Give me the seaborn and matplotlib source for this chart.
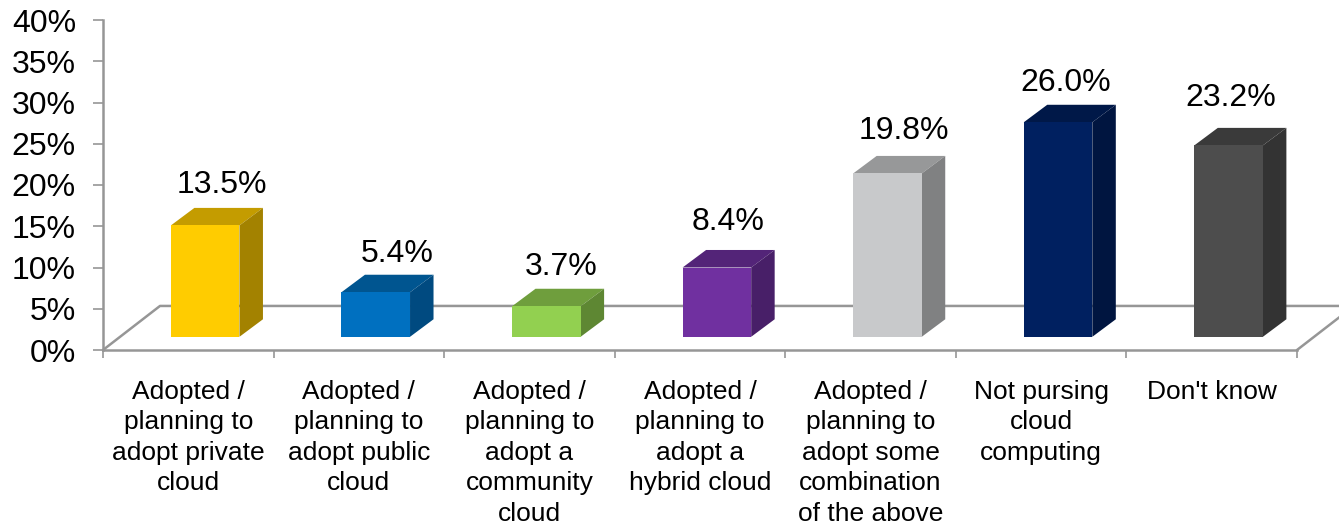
#!/usr/bin/env python3
import pandas as pd
import matplotlib.pyplot as plt
import seaborn as sns

# -------- DATA --------
categories = [
    "Adopted /\nplanning to\nadopt private\ncloud",
    "Adopted /\nplanning to\nadopt public\ncloud",
    "Adopted /\nplanning to\nadopt a\ncommunity\ncloud",
    "Adopted /\nplanning to\nadopt a\nhybrid cloud",
    "Adopted /\nplanning to\nadopt some\ncombination\nof the above",
    "Not pursing\ncloud\ncomputing",
    "Don't know",
]
values = [13.5, 5.4, 3.7, 8.4, 19.8, 26.0, 23.2]
y_ticks = [0, 5, 10, 15, 20, 25, 30, 35, 40]

# -------- STYLE --------
front_colors = ["#FFCC00", "#0070C0", "#92D050", "#7030A0", "#C8C9CB", "#002060", "#4D4D4D"]
top_colors = ["#C49C00", "#005590", "#6F9E3D", "#532478", "#979899", "#001848", "#3A3A3A"]
side_colors = ["#A38200", "#004A80", "#5E8733", "#481F68", "#808182", "#001540", "#333333"]
# label nudges in pixels, from the back top edge of each bar
label_dx = [16.5, 21.5, 14.5, 11.5, 16, 8, 2.5]
label_dy = [22.5, 21, 22, 28, 25, 22, 30]

grey = "#969696"
px_per_cat = 170.6
px_per_pct = 8.24
bar_base = 1.6
bar_dx = 23.5 / px_per_cat
bar_dy = 17.5 / px_per_pct
floor_dx = 57 / px_per_cat
floor_dy = 44 / px_per_pct
x_left = -0.599
x_right = x_left + 7

sns.set_style("white")
plt.rcParams["font.family"] = ["Liberation Sans", "DejaVu Sans"]

df = pd.DataFrame({"category": categories, "value": values})

fig = plt.figure(figsize=(13.39, 5.24), dpi=100)
ax = fig.add_axes([103 / 1339, 174 / 524, 1194 / 1339, 330 / 524])

sns.barplot(
    data=df,
    x="category",
    y="value",
    hue="category",
    palette=front_colors,
    saturation=1,
    width=0.402,
    bottom=bar_base,
    legend=False,
    ax=ax,
    zorder=3,
)

ax.set_xlim(x_left, x_right)
ax.set_ylim(0, 40)

# Floor of the fake 3D box
ax.plot([x_left, x_left + floor_dx, x_right + floor_dx],
        [0, floor_dy, floor_dy], color=grey, lw=1.8, clip_on=False, zorder=1)
ax.plot([x_right, x_right + floor_dx], [0, floor_dy],
        color=grey, lw=1.8, clip_on=False, zorder=1)

# Top and side faces plus the value labels
for i, bar in enumerate(ax.patches):
    x0 = bar.get_x()
    x1 = x0 + bar.get_width()
    y0 = bar.get_y()
    y1 = y0 + bar.get_height()
    bar.set_edgecolor("none")
    ax.fill([x0, x0 + bar_dx, x1 + bar_dx, x1], [y1, y1 + bar_dy, y1 + bar_dy, y1],
            color=top_colors[i], lw=0, zorder=2)
    ax.fill([x1, x1 + bar_dx, x1 + bar_dx, x1], [y0, y0 + bar_dy, y1 + bar_dy, y1],
            color=side_colors[i], lw=0, zorder=2)
    ax.annotate(f"{values[i]:.1f}%", xy=((x0 + x1) / 2, y1 + bar_dy),
                xytext=(label_dx[i], label_dy[i]), textcoords="offset pixels",
                ha="center", va="center", fontsize=23, color="black")

# Category labels sit between the boundary ticks
ax.set_xticks([i + x_left + 0.5 for i in range(len(categories))])
ax.set_xticklabels(categories, fontsize=19, linespacing=1.34)
ax.set_xticks([x_left + i for i in range(len(categories) + 1)], minor=True)
ax.set_yticks(y_ticks)
ax.set_yticklabels([f"{t}%" for t in y_ticks], fontsize=23)
ax.set_xlabel("")
ax.set_ylabel("")

ax.tick_params(axis="x", which="major", length=0, pad=21.5, labelcolor="black")
ax.tick_params(axis="x", which="minor", length=6, width=1.2, color=grey, direction="out", bottom=True)
ax.tick_params(axis="y", which="major", length=7, width=1.2, color=grey, direction="out", pad=12.5,
               left=True, labelcolor="black")

sns.despine(ax=ax)
for side in ["left", "bottom"]:
    ax.spines[side].set_color(grey)
    ax.spines[side].set_linewidth(1.8)

plt.savefig("out.png", dpi=100)
